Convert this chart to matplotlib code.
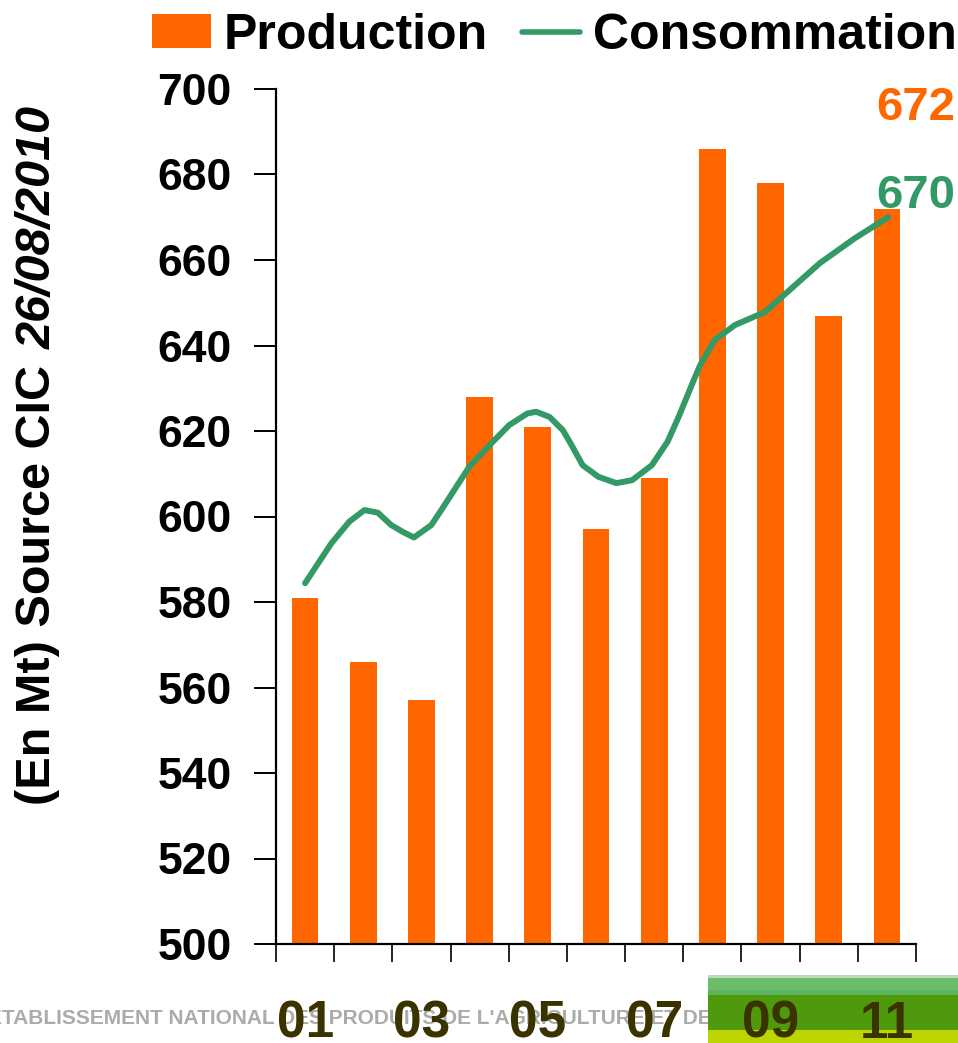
import numpy as np
import matplotlib
matplotlib.use("Agg")
import matplotlib.pyplot as plt
from matplotlib.patches import Patch
from matplotlib.lines import Line2D

plt.rcParams['font.family'] = ['Liberation Sans', 'DejaVu Sans']

# data
years = ['01', '02', '03', '04', '05', '06', '07', '08', '09', '10', '11']
production = [581, 566, 557, 628, 621, 597, 609, 686, 678, 647, 672]

# consumption curve (x in category units, 0 = 2001)
conso_x = [0.0, 0.45, 0.76, 1.02, 1.25, 1.48, 1.68, 1.87, 2.17, 2.36, 2.82,
           3.20, 3.51, 3.82, 3.97, 4.20, 4.43, 4.58, 4.77, 5.04, 5.35, 5.62,
           5.96, 6.23, 6.42, 6.68, 6.79, 7.04, 7.39, 7.90, 8.33, 8.85, 9.45, 10.02]
conso_values = [584.4, 593.7, 598.8, 601.5, 600.9, 598.0, 596.4, 595.1, 598.0, 601.9, 611.6,
                617.1, 621.4, 624.1, 624.5, 623.3, 620.2, 616.7, 612.0, 609.3, 607.8, 608.5,
                612.0, 617.5, 623.3, 631.9, 635.4, 641.3, 644.8, 647.8, 653.0, 659.3, 665.1, 670.0]

last_prod_label = '672'
last_conso_label = '670'

ORANGE = '#FF6600'
GREEN = '#339966'
OLIVE = '#3a3300'

W, H = 958, 1043
fig = plt.figure(figsize=(W / 100, H / 100), dpi=100)
ax = fig.add_axes([276 / W, 99 / H, 640 / W, 855 / H])
ax.patch.set_alpha(0)

x = np.arange(len(years))
ax.bar(x, production, width=0.46, color=ORANGE, zorder=2)
ax.plot(conso_x, conso_values, color=GREEN, lw=4.3, solid_capstyle='round',
        solid_joinstyle='round', zorder=3)

ax.set_xlim(-0.5, len(years) - 0.5)
ax.set_ylim(500, 700)

for s in ['top', 'right']:
    ax.spines[s].set_visible(False)
for s in ['left', 'bottom']:
    ax.spines[s].set_linewidth(1.6)
    ax.spines[s].set_color('black')

ax.set_yticks(np.arange(500, 701, 20))
ax.tick_params(axis='y', direction='out', length=16, width=1.4, pad=16,
               labelsize=32)
for lab in ax.get_yticklabels():
    lab.set_fontweight('bold')

# category boundary ticks + every-other year label
ax.set_xticks(np.arange(-0.5, len(years), 1.0))
ax.set_xticklabels([])
ax.tick_params(axis='x', which='major', direction='out', length=13, width=1.2)
ax.set_xticks(x[::2], minor=True)
ax.set_xticklabels(years[::2], minor=True)
ax.tick_params(axis='x', which='minor', length=0, pad=40, labelsize=37,
               labelcolor=OLIVE)
for lab in ax.get_xticklabels(minor=True):
    lab.set_fontweight('bold')

# end-value labels
ax.text(9.81, 695.6, last_prod_label, color=ORANGE, fontsize=34, fontweight='bold',
        ha='left', va='center', clip_on=False)
ax.text(9.81, 675.0, last_conso_label, color=GREEN, fontsize=34, fontweight='bold',
        ha='left', va='center', clip_on=False)

# legend
handles = [Patch(facecolor=ORANGE, edgecolor='none'),
           Line2D([0], [0], color=GREEN, lw=4, solid_capstyle='round')]
fig.legend(handles, ['Production', 'Consommation'], loc='center right',
           bbox_to_anchor=(0.999, 1 - 36 / H), ncol=2, frameon=False,
           prop={'size': 36, 'weight': 'bold'}, handlelength=1.17, handleheight=0.67,
           handletextpad=0.26, columnspacing=0.67, borderpad=0, borderaxespad=0)

# y label with italic date part
t1 = fig.text(38 / W, (H - 805) / H, '(En Mt) Source CIC', rotation=90,
              ha='center', va='bottom', fontsize=35, fontweight='bold')
fig.canvas.draw()
bb = t1.get_window_extent()
fig.text(38 / W, (bb.y1 + 16) / H, '26/08/2010', rotation=90, ha='center',
         va='bottom', fontsize=35, fontweight='bold', style='italic')

# faded banner at the bottom
fig.text(-12 / W, (H - 1019) / H,
         "ÉTABLISSEMENT NATIONAL DES PRODUITS DE L'AGRICULTURE ET DE LA MER",
         color='#ababab', fontsize=15, fontweight='bold',
         family=['Liberation Sans Narrow', 'Liberation Sans'],
         va='center', ha='left', zorder=-2)

gax = fig.add_axes([708 / W, 0, (W - 708) / W, 68 / H], zorder=-1)
bands = [('#b8dcb8', 3), ('#6cbc6c', 12), ('#5cb45c', 5), ('#4e9a0c', 35), ('#bcd400', 13)]
rows = []
for c, n in bands:
    rows += [matplotlib.colors.to_rgb(c)] * n
gax.imshow(np.array(rows)[:, None, :], aspect='auto', interpolation='nearest')
gax.axis('off')

fig.savefig('out.png', dpi=100)
